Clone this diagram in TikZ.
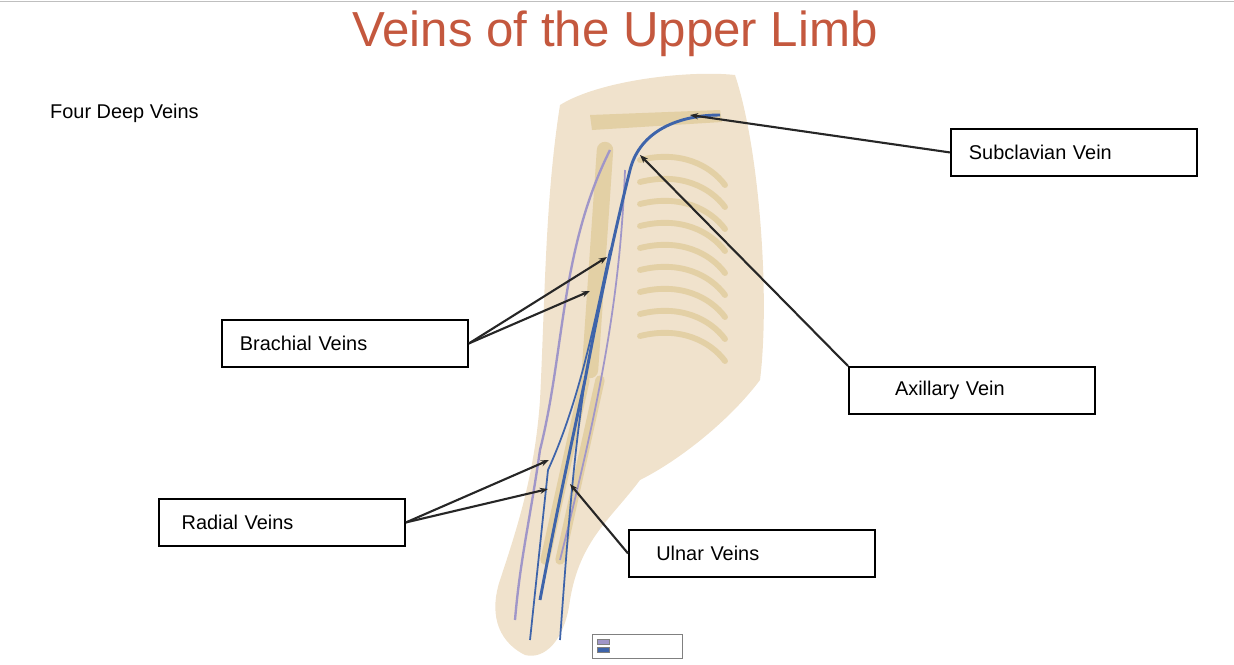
\documentclass[tikz,border=0pt]{standalone}
\usepackage{fontspec}
\setmainfont{Liberation Sans}
\usetikzlibrary{positioning,calc,arrows.meta}
\definecolor{titlered}{RGB}{196,88,62}
\definecolor{skin}{RGB}{240,226,204}
\definecolor{bone}{RGB}{236,228,190}
\definecolor{vdeep}{RGB}{62,100,170}
\definecolor{vsup}{RGB}{160,150,200}
\tikzset{font=\fontsize{17}{19}\selectfont}
\begin{document}
\begin{tikzpicture}[x=0.03cm, y=-0.03cm]
	\tikzstyle{lbl}=[draw, line width=1.6pt, minimum width=246*0.03cm, minimum height=47*0.03cm, anchor=north west, inner xsep=5pt, text width=210*0.03cm]
	\tikzstyle{ptr}=[draw=black!85, line width=1.8pt, -{Stealth[length=7pt]}]
	\useasboundingbox (0,0) rectangle (1234,664);
	\draw[gray!50] (0,1) -- (1234,1);
	% body and arm
	\fill[skin] (560,105) .. controls (600,80) and (690,70) .. (735,75)
		.. controls (760,150) and (770,300) .. (760,380)
		.. controls (730,420) and (680,460) .. (640,480)
		.. controls (610,520) and (580,540) .. (570,600)
		.. controls (565,640) and (545,660) .. (525,655)
		.. controls (495,640) and (490,610) .. (500,580)
		.. controls (520,520) and (535,470) .. (540,400)
		.. controls (545,300) and (545,200) .. (560,105) -- cycle;
	% ribs
	\foreach \i in {0,...,8}
		\draw[bone!80!brown, line width=5pt, line cap=round] (640,160+\i*22) .. controls (680,150+\i*22) and (710,165+\i*22) .. (725,185+\i*22);
	% bones
	\fill[bone!80!brown] (590,115) -- (720,110) -- (722,122) -- (592,130) -- cycle;
	\draw[bone!80!brown, line width=14pt, line cap=round] (605,150) -- (590,370);
	\draw[bone!80!brown, line width=8pt, line cap=round] (585,380) -- (545,560);
	\draw[bone!80!brown, line width=8pt, line cap=round] (600,380) -- (560,560);
	% veins
	\draw[vsup, line width=2pt] (610,150) .. controls (560,250) and (565,350) .. (540,450) .. controls (530,520) and (520,560) .. (515,620);
	\draw[vsup, line width=1.5pt] (625,170) .. controls (620,300) and (600,400) .. (560,560);
	\draw[vdeep, line width=2.5pt] (720,115) .. controls (680,115) and (640,130) .. (630,170)
		.. controls (615,230) and (600,300) .. (585,380) .. controls (570,450) and (555,520) .. (540,600);
	\draw[vdeep, line width=1.5pt] (610,250) .. controls (595,320) and (580,400) .. (548,470) -- (530,640);
	\draw[vdeep, line width=1.5pt] (585,380) .. controls (575,450) and (570,500) .. (560,640);
	% title
	\node[anchor=base] (title) at (615,46) {\fontsize{42}{46}\selectfont\color{titlered}Veins of the Upper Limb};
	\node[anchor=west, inner sep=0pt] (four) at (50,113) {Four Deep Veins};
	% labels
	\node[lbl] (sub) at (950,128) {Subclavian Vein};
	\node[lbl] (axi) at (848,366) {\hspace*{24pt}Axillary Vein};
	\node[lbl] (bra) at (221,319) {Brachial Veins};
	\node[lbl] (rad) at (158,498) {\hspace*{4pt}Radial Veins};
	\node[lbl] (uln) at (628,529) {\hspace*{8pt}Ulnar Veins};
	% pointers
	\coordinate (p1) at (690,115);
	\coordinate (p2) at (640,155);
	\coordinate (p3) at (607,257);
	\coordinate (p4) at (590,291);
	\coordinate (p5) at (549,460);
	\coordinate (p6) at (548,489);
	\coordinate (p7) at (570,484);
	\draw[ptr] (sub.west) -- (p1);
	\draw[ptr] (axi.north west) -- (p2);
	\draw[ptr] (bra.east) -- (p3);
	\draw[ptr] (bra.east) -- (p4);
	\draw[ptr] (rad.east) -- (p5);
	\draw[ptr] (rad.east) -- (p6);
	\draw[ptr] (uln.west) -- (p7);
	% legend
	\node[draw=gray, minimum width=90*0.03cm, minimum height=24*0.03cm, anchor=north west] (leg) at (592,634) {};
	\node[draw=gray, fill=vsup, minimum width=12*0.03cm, minimum height=5*0.03cm, inner sep=0pt] (lg1) at (603,642) {};
	\node[draw=gray, fill=vdeep, minimum width=12*0.03cm, minimum height=5*0.03cm, inner sep=0pt, below=2*0.03cm of lg1] (lg2) {};
\end{tikzpicture}
\end{document}
